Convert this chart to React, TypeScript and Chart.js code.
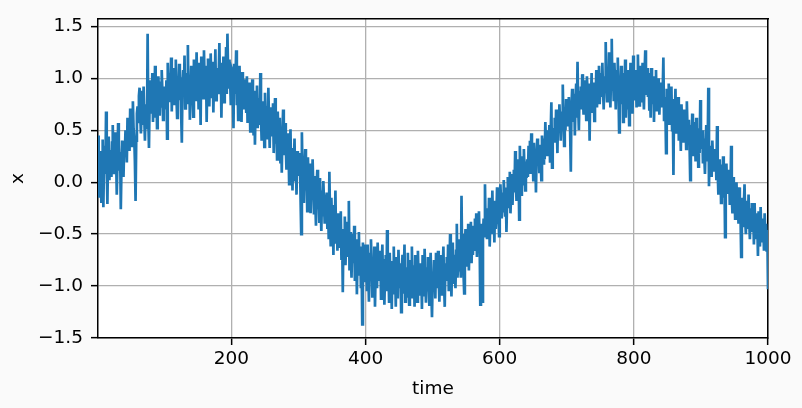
import React, { useEffect, useRef } from "react";
import { Chart, registerables } from "chart.js";

Chart.register(...registerables);

// x(t), t = 1..1000 (20 values per row)
const xValues: number[] = [
  0.45, 0.12, -0.15, 0.30, 0.18, -0.20, 0.05, 0.41, -0.24, 0.22, 0.35, 0.08, 0.68, 0.14, -0.21, 0.28, 0.44, 0.02, 0.31, 0.12,
  0.05, 0.38, 0.55, 0.18, 0.09, 0.32, 0.48, 0.25, -0.12, 0.20, 0.57, 0.36, 0.11, 0.29, -0.26, 0.14, 0.40, 0.22, 0.05, 0.33,
  0.28, 0.50, 0.41, 0.19, 0.62, 0.37, 0.55, 0.30, 0.71, 0.46, 0.60, 0.35, 0.78, 0.52, 0.44, 0.20, -0.18, 0.40, 0.66, 0.73,
  0.58, 0.83, 0.91, 0.64, 0.47, 0.70, 0.88, 0.55, 0.92, 0.62, 0.40, 0.75, 0.68, 0.51, 1.43, 0.60, 0.33, 0.79, 0.98, 0.66,
  0.71, 1.05, 0.58, 0.90, 0.62, 1.12, 0.80, 0.95, 0.52, 0.76, 1.02, 0.85, 0.64, 0.97, 0.73, 1.08, 0.88, 0.60, 0.92, 0.79,
  0.88, 0.70, 0.98, 0.42, 1.15, 0.82, 1.05, 0.77, 0.93, 1.20, 0.68, 0.99, 0.86, 1.10, 0.74, 0.95, 1.18, 0.81, 0.62, 1.02,
  0.90, 1.14, 0.79, 1.01, 0.66, 0.38, 0.97, 1.08, 0.85, 1.22, 0.71, 0.94, 1.05, 0.88, 1.32, 0.75, 1.00, 0.60, 0.92, 1.12,
  1.05, 0.86, 0.63, 1.18, 0.95, 1.09, 0.78, 1.25, 0.92, 1.03, 0.70, 1.15, 0.98, 0.55, 1.21, 0.88, 1.06, 0.81, 1.27, 0.96,
  0.84, 1.12, 0.58, 1.01, 1.19, 0.90, 0.73, 1.08, 1.24, 0.95, 0.82, 1.16, 0.67, 1.03, 0.91, 1.28, 0.79, 1.10, 0.99, 0.86,
  1.02, 1.34, 0.88, 1.15, 0.62, 1.07, 0.93, 1.21, 0.77, 1.12, 0.96, 1.30, 0.85, 1.43, 1.05, 0.90, 1.18, 0.98, 0.74, 1.10,
  1.08, 0.92, 0.52, 1.14, 0.85, 0.98, 1.27, 0.74, 1.03, 0.60, 0.88, 1.12, 0.79, 0.95, 0.58, 1.06, 0.83, 0.70, 0.99, 0.76,
  0.91, 0.68, 1.02, 0.57, 0.84, 0.73, 0.96, 0.49, 0.80, 0.62, 0.99, 0.71, 0.45, 0.88, 0.36, 0.77, 0.60, 0.93, 0.52, 0.70,
  0.81, 0.55, 1.05, 0.63, 0.40, 0.78, 0.52, 0.69, 0.34, 0.86, 0.58, 0.47, 0.73, 0.41, 0.91, 0.60, 0.33, 0.72, 0.50, 0.64,
  0.44, 0.76, 0.28, 0.59, 0.81, 0.37, 0.55, 0.22, 0.68, 0.45, 0.30, 0.62, 0.18, 0.52, 0.09, 0.48, 0.70, 0.26, 0.41, 0.57,
  0.35, 0.12, 0.47, 0.20, 0.38, -0.02, 0.29, 0.51, 0.08, 0.25, -0.08, 0.33, 0.14, 0.42, 0.02, 0.19, -0.12, 0.30, 0.06, 0.22,
  0.10, 0.28, -0.15, -0.50, 0.48, 0.05, 0.21, -0.20, 0.15, 0.32, -0.08, 0.09, -0.28, 0.24, 0.01, -0.14, 0.18, -0.30, 0.03, -0.10,
  0.22, -0.05, -0.31, 0.06, -0.18, -0.42, -0.02, 0.12, -0.26, -0.10, -0.38, 0.04, -0.22, -0.47, -0.08, -0.33, 0.01, -0.19, -0.40, -0.12,
  -0.28, -0.10, -0.45, -0.20, -0.55, 0.10, -0.35, -0.62, -0.15, -0.40, -0.28, -0.70, -0.22, -0.48, -0.08, -0.58, -0.36, -0.66, -0.30, -0.52,
  -0.40, -0.62, -0.28, -0.75, -0.50, -1.06, -0.45, -0.68, -0.33, -0.80, -0.55, -0.38, -0.72, -0.60, -0.18, -0.85, -0.48, -0.70, -0.92, -0.58,
  -0.50, -0.78, -0.42, -0.95, -0.66, -0.55, -1.08, -0.70, -0.85, -0.48, -0.90, -0.62, -1.02, -0.75, -1.37, -0.58, -0.82, -0.95, -0.60, -0.88,
  -0.72, -1.05, -0.60, -0.88, -1.15, -0.68, -0.92, -0.55, -0.80, -1.10, -0.75, -0.98, -0.62, -1.20, -0.85, -0.70, -1.02, -0.58, -0.90, -0.78,
  -0.95, -0.66, -1.12, -0.82, -0.60, -1.00, -0.74, -1.18, -0.88, -0.70, -1.05, -0.46, -0.92, -0.80, -1.15, -0.68, -0.98, -0.85, -1.22, -0.76,
  -0.90, -0.62, -1.08, -0.84, -1.20, -0.72, -0.96, -1.12, -0.65, -0.88, -1.02, -0.78, -1.25, -0.92, -0.70, -1.06, -0.85, -0.60, -1.15, -0.94,
  -0.82, -1.10, -0.68, -0.98, -1.18, -0.75, -1.05, -0.88, -0.62, -1.12, -0.92, -0.80, -1.20, -0.70, -1.00, -0.86, -1.15, -0.66, -0.95, -1.08,
  -0.78, -1.02, -0.88, -1.22, -0.70, -0.96, -1.10, -0.64, -0.90, -1.16, -0.82, -1.04, -0.72, -0.94, -1.18, -0.86, -0.68, -1.05, -1.30, -0.92,
  -1.00, -0.75, -0.90, -1.12, -0.68, -0.84, -1.02, -0.66, -0.92, -1.15, -0.80, -0.95, -0.70, -1.08, -0.86, -0.62, -0.98, -1.20, -0.78, -0.90,
  -0.72, -0.95, -0.60, -1.05, -0.82, -0.50, -0.88, -1.10, -0.76, -0.58, -0.98, -0.70, -0.85, -1.02, -0.66, -0.40, -0.92, -0.78, -0.55, -0.86,
  -0.68, -0.92, -0.13, -0.75, -0.50, -0.88, -1.07, -0.62, -0.45, -0.80, -0.58, -0.72, -0.40, -0.85, -0.55, -0.66, -0.38, -0.78, -0.50, -0.70,
  -0.42, -0.65, -0.35, -0.58, -0.30, -0.72, -0.48, -0.60, -0.28, -0.55, -1.18, -0.40, -0.62, -1.15, -0.50, -0.35, -0.52, -0.02, -0.45, -0.25,
  -0.55, -0.30, -0.48, -0.15, -0.62, -0.38, -0.22, -0.50, -0.08, -0.42, -0.28, -0.58, -0.18, -0.45, -0.32, -0.05, -0.40, -0.25, -0.52, -0.12,
  -0.02, -0.20, -0.35, -0.10, -0.28, 0.02, -0.15, -0.32, -0.05, -0.48, -0.18, 0.05, -0.25, -0.08, 0.10, -0.30, -0.12, 0.08, -0.22, -0.02,
  0.12, -0.10, 0.30, 0.05, -0.18, 0.22, -0.05, 0.15, -0.36, 0.35, 0.02, -0.12, 0.25, 0.08, -0.02, 0.32, 0.10, -0.08, 0.20, 0.04,
  0.22, 0.05, 0.35, 0.15, 0.40, 0.08, 0.47, 0.20, 0.30, 0.02, 0.38, 0.12, 0.25, -0.10, 0.28, 0.42, 0.18, 0.33, 0.10, 0.36,
  0.28, 0.02, 0.45, 0.30, 0.18, 0.42, 0.22, 0.58, 0.35, 0.50, 0.25, 0.40, 0.32, 0.55, 0.20, 0.48, 0.77, 0.14, 0.38, 0.52,
  0.45, 0.62, 0.38, 0.70, 0.55, 0.28, 0.66, 0.48, 0.75, 0.58, 0.40, 0.68, 0.52, 0.94, 0.60, 0.35, 0.72, 0.50, 0.80, 0.62,
  0.70, 0.55, 0.82, 0.62, 0.48, 0.10, 0.75, 0.90, 0.58, 0.68, 0.85, 0.45, 0.78, 0.95, 0.62, 1.16, 0.72, 0.50, 0.88, 0.80,
  0.92, 0.70, 1.04, 0.82, 0.65, 0.98, 0.75, 0.88, 0.60, 1.02, 0.85, 0.72, 0.95, 0.40, 0.90, 0.78, 1.05, 0.68, 0.86, 0.96,
  0.59, 0.95, 0.80, 1.08, 0.72, 0.98, 0.86, 1.12, 0.75, 0.92, 1.05, 0.82, 1.15, 0.90, 0.70, 1.02, 0.88, 1.35, 0.96, 0.78,
  1.10, 0.85, 1.25, 0.92, 0.72, 1.05, 1.38, 0.88, 1.02, 0.78, 1.15, 0.95, 0.70, 1.08, 0.82, 1.20, 0.90, 0.48, 1.00, 0.86,
  1.12, 0.75, 0.96, 0.58, 1.05, 0.82, 1.18, 0.62, 0.90, 1.08, 0.70, 0.98, 0.55, 0.85, 1.15, 0.78, 0.95, 0.66, 1.22, 0.88,
  0.95, 0.80, 1.08, 0.72, 0.98, 1.23, 0.86, 0.74, 1.12, 1.02, 0.78, 0.92, 1.15, 0.88, 0.70, 1.05, 1.27, 0.84, 0.96, 1.10,
  0.82, 1.05, 0.70, 0.95, 0.62, 1.10, 0.88, 0.75, 1.02, 0.58, 0.92, 0.80, 1.08, 0.68, 0.90, 0.76, 1.00, 0.65, 0.85, 0.96,
  0.72, 0.94, 0.88, 1.20, 0.60, 0.82, 0.70, 0.28, 0.90, 0.65, 0.78, 0.95, 0.55, 0.85, 0.68, 0.92, 0.50, 0.75, 0.07, 0.80,
  0.62, 0.90, 0.48, 0.72, 0.55, 0.82, 0.40, 0.68, 0.58, 0.30, 0.75, 0.52, 0.64, 0.38, 0.70, 0.46, 0.60, 0.32, 0.78, 0.50,
  0.45, 0.60, 0.38, 0.02, 0.55, 0.30, 0.66, 0.42, 0.25, 0.58, 0.48, 0.20, 0.62, 0.35, 0.52, 0.15, 0.44, 0.28, 0.79, 0.40,
  0.32, 0.50, 0.18, 0.42, 0.25, 0.08, 0.38, 0.55, 0.20, 0.30, 0.91, -0.04, 0.35, 0.15, 0.28, 0.05, 0.40, 0.22, 0.10, 0.32,
  0.15, 0.30, 0.02, 0.54, 0.10, -0.12, 0.22, 0.05, 0.17, -0.20, 0.12, -0.05, 0.25, -0.15, 0.08, -0.53, 0.02, 0.18, -0.10, 0.06,
  -0.05, 0.12, -0.22, -0.08, 0.35, -0.15, -0.30, 0.05, -0.18, -0.02, -0.35, -0.10, 0.00, -0.25, -0.12, -0.40, -0.05, -0.20, -0.32, -0.72,
  -0.28, -0.15, -0.42, -0.22, -0.02, -0.35, -0.50, -0.18, -0.30, -0.45, -0.12, -0.38, -0.55, -0.25, -0.40, -0.20, -0.48, -0.32, -0.60, -0.20,
  -0.45, -0.30, -0.55, -0.38, -0.71, -0.28, -0.50, -0.62, -0.24, -0.48, -0.35, -0.58, -0.42, -0.66, -0.30, -0.52, -0.40, -0.67, -0.46, -1.03,
];

const timeSteps: number[] = xValues.map((_, i) => i + 1);
const xTicks: number[] = [200, 400, 600, 800, 1000];
const yTicks: number[] = [-1.5, -1.0, -0.5, 0.0, 0.5, 1.0, 1.5];

const FONT = { family: "'DejaVu Sans', sans-serif", size: 18.5 };
const BORDER = { display: true, color: "#000000", width: 1.5 };

const fmtY = (v: number) => {
  const s = Math.abs(v).toFixed(1);
  return v < 0 ? "\u2212" + s : s;
};

export default function App() {
  const ref = useRef<HTMLCanvasElement | null>(null);

  useEffect(() => {
    document.body.style.margin = "0";
    const canvas = ref.current;
    if (!canvas) return;

    const bgPlugin = {
      id: "bgfill",
      beforeDraw(chart: any) {
        const { ctx, chartArea } = chart;
        ctx.save();
        ctx.fillStyle = "#fafafa";
        ctx.fillRect(0, 0, chart.width, chart.height);
        ctx.fillStyle = "#ffffff";
        ctx.fillRect(chartArea.left, chartArea.top, chartArea.right - chartArea.left, chartArea.bottom - chartArea.top);
        ctx.restore();
      },
    };

    const chart = new Chart(canvas, {
      type: "line",
      data: {
        datasets: [
          {
            data: timeSteps.map((t, i) => ({ x: t, y: xValues[i] })),
            borderColor: "#1f77b4",
            borderWidth: 2.7,
            pointRadius: 0,
            tension: 0,
            fill: false,
            xAxisID: "x",
            yAxisID: "y",
          },
        ],
      },
      options: {
        animation: false,
        responsive: false,
        devicePixelRatio: 1,
        layout: { padding: { left: 0, right: 34, top: 13, bottom: 0 } },
        plugins: { legend: { display: false }, tooltip: { enabled: false } },
        scales: {
          x: {
            type: "linear",
            position: "bottom",
            min: 1,
            max: 1000,
            afterBuildTicks: (s: any) => {
              s.ticks = xTicks.map((v) => ({ value: v }));
            },
            afterFit: (s: any) => {
              s.height = 70;
            },
            ticks: {
              color: "#000",
              font: FONT,
              padding: 3,
              maxRotation: 0,
              callback: (v: any) => String(v),
            },
            grid: {
              color: "#b0b0b0",
              lineWidth: 1.3,
              tickColor: "#000",
              tickLength: 7,
              tickWidth: 1.5,
            },
            border: BORDER,
            title: {
              display: true,
              text: "time",
              color: "#000",
              font: FONT,
              padding: { top: 0, bottom: 8 },
            },
          },
          xTop: {
            type: "linear",
            position: "top",
            min: 1,
            max: 1000,
            ticks: { display: false },
            grid: { display: false, drawTicks: false },
            border: BORDER,
            afterFit: (s: any) => {
              s.height = 0;
            },
          },
          y: {
            type: "linear",
            position: "left",
            min: -1.5,
            max: 1.57,
            afterBuildTicks: (s: any) => {
              s.ticks = yTicks.map((v) => ({ value: v }));
            },
            afterFit: (s: any) => {
              s.width = 98;
            },
            ticks: {
              color: "#000",
              font: FONT,
              padding: 8,
              callback: (v: any) => fmtY(Number(v)),
            },
            grid: {
              color: "#b0b0b0",
              lineWidth: 1.3,
              tickColor: "#000",
              tickLength: 7,
              tickWidth: 1.5,
            },
            border: BORDER,
            title: {
              display: true,
              text: "x",
              color: "#000",
              font: FONT,
              padding: { top: 7, bottom: 0 },
            },
          },
          yRight: {
            type: "linear",
            position: "right",
            min: -1.5,
            max: 1.57,
            ticks: { display: false },
            grid: { display: false, drawTicks: false },
            border: BORDER,
            afterFit: (s: any) => {
              s.width = 0;
            },
          },
        },
      },
      plugins: [bgPlugin],
    });

    return () => chart.destroy();
  }, []);

  return (
    <div style={{ width: 802, height: 408, position: "relative" }}>
      <canvas ref={ref} width={802} height={408} style={{ display: "block" }} />
    </div>
  );
}
